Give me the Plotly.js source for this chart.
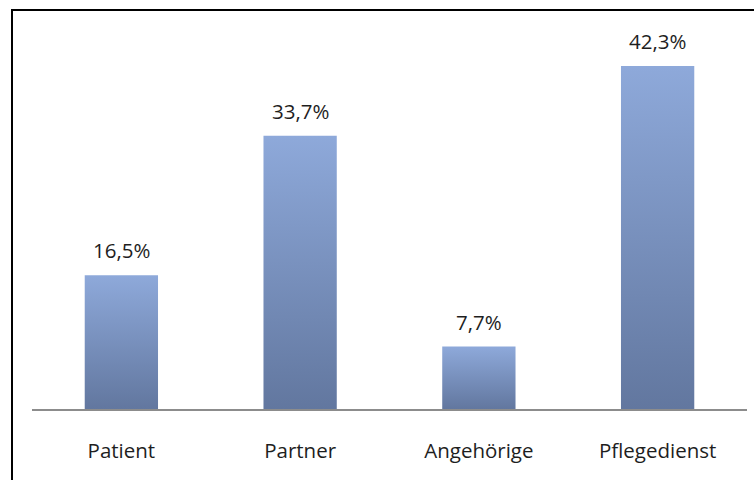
<!DOCTYPE html>
<html>
<head>
<meta charset="utf-8">
<script src="https://cdn.plot.ly/plotly-3.0.1.min.js"></script>
<style>
  html, body { margin: 0; padding: 0; background: #fff; }
  #wrap { position: relative; width: 754px; height: 480px; overflow: hidden; }
  #chart { position: absolute; left: 0; top: 0; width: 754px; height: 480px; }
  #frame { position: absolute; left: 11px; top: 9px; width: 760px; height: 480px;
           border-top: 2px solid #000; border-left: 2px solid #000; pointer-events: none; }
</style>
</head>
<body>
<div id="wrap">
  <div id="chart"></div>
  <div id="frame"></div>
</div>
<script>
const categories = ["Patient", "Partner", "Angehörige", "Pflegedienst"];
const values = [16.5, 33.7, 7.7, 42.3];
const valueLabels = ["16,5%", "33,7%", "7,7%", "42,3%"];

const FONT = "Open Sans, Liberation Sans, sans-serif";

const trace = {
  type: "bar",
  x: categories,
  y: values,
  width: 0.41,
  marker: { color: "#7890BE", line: { width: 0 } },
  hoverinfo: "skip"
};

const annotations = categories.map((c, i) => ({
  x: c, y: values[i], xref: "x", yref: "y",
  text: valueLabels[i], showarrow: false,
  yanchor: "bottom", yshift: 9,
  font: { family: FONT, size: 20.5, color: "#1e1e1e" }
}));

const layout = {
  width: 754, height: 480,
  margin: { l: 32, r: 7, t: 44, b: 71 },
  paper_bgcolor: "#ffffff",
  plot_bgcolor: "#ffffff",
  showlegend: false,
  separators: ",.",
  xaxis: {
    showline: true, linecolor: "#8c8c8c", linewidth: 2,
    showgrid: false, zeroline: false,
    ticks: "", ticklabelstandoff: 22,
    tickfont: { family: FONT, size: 20.5, color: "#1e1e1e" }
  },
  yaxis: {
    range: [0, 45], visible: false, showgrid: false, zeroline: false
  },
  annotations: annotations
};

Plotly.newPlot("chart", [trace], layout, { displayModeBar: false, staticPlot: true }).then(gd => {
  const svg = gd.querySelector("svg.main-svg");
  const ns = "http://www.w3.org/2000/svg";
  let defs = svg.querySelector("defs");
  if (!defs) { defs = document.createElementNS(ns, "defs"); svg.insertBefore(defs, svg.firstChild); }
  const grad = document.createElementNS(ns, "linearGradient");
  grad.setAttribute("id", "barGrad");
  grad.setAttribute("x1", "0"); grad.setAttribute("y1", "0");
  grad.setAttribute("x2", "0"); grad.setAttribute("y2", "1");
  [["0%", "#8EA9DA"], ["100%", "#62779F"]].forEach(([o, c]) => {
    const s = document.createElementNS(ns, "stop");
    s.setAttribute("offset", o); s.setAttribute("stop-color", c);
    grad.appendChild(s);
  });
  defs.appendChild(grad);
  gd.querySelectorAll(".bars .point path").forEach(p => {
    p.style.fill = "url(#barGrad)";
  });
});
</script>
</body>
</html>
